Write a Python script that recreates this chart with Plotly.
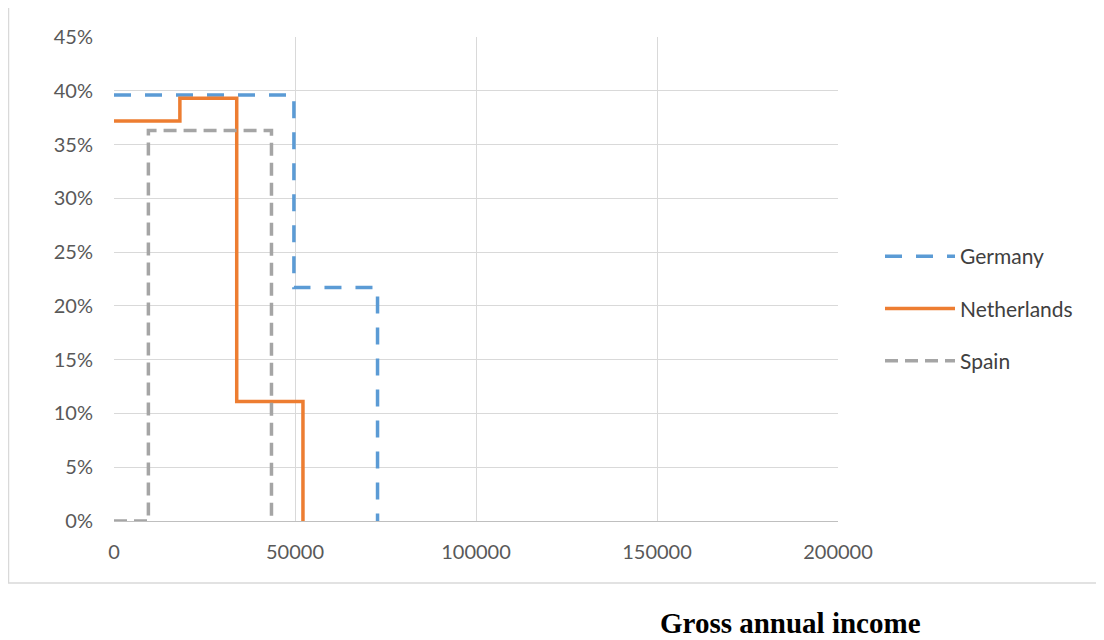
import plotly.graph_objects as go

# Data
germany_x = [0, 49700, 72800]
germany_y = [0.396, 0.217, 0.0]
netherlands_x = [0, 18200, 33900, 52200]
netherlands_y = [0.372, 0.393, 0.111, 0.0]
spain_x = [0, 9500, 43500]
spain_y = [0.0, 0.363, 0.0]

x_ticks = [0, 50000, 100000, 150000, 200000]
y_ticks = [0, 0.05, 0.10, 0.15, 0.20, 0.25, 0.30, 0.35, 0.40, 0.45]

OFF = 8  # page body margin
W, H = 1104 - OFF, 640 - OFF
# plot area in page pixels
L, R, T, B = 114, 838, 37, 521

fig = go.Figure()
fig.add_trace(go.Scatter(x=germany_x, y=germany_y, name="Germany", mode="lines",
                         line=dict(shape="hv", color="#5B9BD5", width=3.5, dash="17px,14px"),
                         legendgroup="g"))
fig.add_trace(go.Scatter(x=netherlands_x, y=netherlands_y, name="Netherlands", mode="lines",
                         line=dict(shape="hv", color="#ED7D31", width=3.5),
                         legendgroup="n"))
fig.add_trace(go.Scatter(x=spain_x, y=spain_y, name="Spain", mode="lines",
                         line=dict(shape="hv", color="#A5A5A5", width=3.5, dash="13px,7px"),
                         legendgroup="s"))

def px_x(p):
    return (p - L) / (R - L)

def px_y(p):
    return (B - p) / (B - T)

font = "Lato, 'Open Sans', sans-serif"

fig.update_layout(
    width=W, height=H,
    margin=dict(l=L - OFF, r=W + OFF - R, t=T - OFF, b=H + OFF - B, autoexpand=False),
    paper_bgcolor="white", plot_bgcolor="white",
    showlegend=True,
    legend=dict(x=px_x(880), y=px_y(236), xanchor="left", yanchor="top",
                font=dict(family=font, size=21, color="#404040"),
                itemwidth=70, traceorder="grouped", tracegroupgap=22,
                bgcolor="rgba(0,0,0,0)"),
    xaxis=dict(range=[0, 200000], tickvals=x_ticks, ticktext=[str(v) for v in x_ticks],
               showgrid=True, gridcolor="#D9D9D9", gridwidth=1, zeroline=False,
               showline=True, linecolor="#BFBFBF", linewidth=1,
               ticks="", ticklabelstandoff=13,
               tickfont=dict(family=font, size=20, color="#595959")),
    yaxis=dict(range=[0, 0.45], tickvals=y_ticks, tickformat=".0%",
               showgrid=True, gridcolor="#D9D9D9", gridwidth=1, zeroline=False,
               showline=False, ticks="", ticklabelstandoff=20,
               tickfont=dict(family=font, size=20, color="#595959")),
    shapes=[dict(type="rect", xref="paper", yref="paper",
                 x0=px_x(8.5), x1=px_x(1110), y0=px_y(583), y1=px_y(7),
                 line=dict(color="#D9D9D9", width=1.5), fillcolor="rgba(0,0,0,0)",
                 layer="below")],
    annotations=[dict(text="<b>Gross annual income</b>", xref="paper", yref="paper",
                      x=px_x(790), y=px_y(623), xanchor="center", yanchor="middle",
                      showarrow=False,
                      font=dict(family="'Liberation Serif', 'Times New Roman', serif",
                                size=29, color="black"))],
)

fig.write_html("out.html")
